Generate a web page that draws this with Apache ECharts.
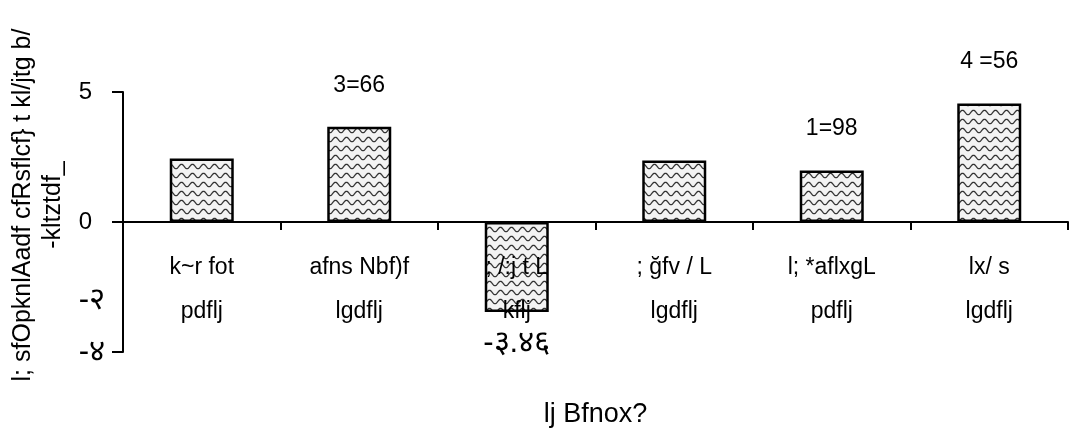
<!DOCTYPE html>
<html><head><meta charset="utf-8">
<script src="https://cdn.jsdelivr.net/npm/echarts@6/dist/echarts.min.js"></script>
<style>html,body{margin:0;padding:0;background:#fff}#c{width:1073px;height:439px}</style>
</head><body><div id="c"></div>
<script>
const categories = ['k~r fot\npdflj', 'afns Nbf)f\nlgdflj', '; /:j t L\nkflj', '; ğfv / L\nlgdflj', 'l; *aflxgL\npdflj', 'lx/ s\nlgdflj'];
const values = [2.44, 3.66, -3.46, 2.37, 1.98, 4.56];
const valueLabels = ['', '3=66', '-३.४६', '', '1=98', '4 =56'];
const yTickValues = [5, 0, -5];
const yLabelValues = [5, 0, -3, -5];
const yLabelTexts = ['5', '0', '-२', '-४'];
const xName = 'lj Bfnox?';
const yName = 'l; sfOpknlAadf cfRsflcf} t kl/jtg b/\n-kltztdf_';

const FONT = "'Liberation Sans', Arial, sans-serif";

function makePattern() {
  const c = document.createElement('canvas');
  c.width = 11; c.height = 9;
  const g = c.getContext('2d');
  g.fillStyle = '#f3f3f3'; g.fillRect(0, 0, 11, 9);
  g.strokeStyle = '#333'; g.lineWidth = 1.3;
  g.beginPath();
  for (let x = 0; x <= 11; x += 0.5) {
    const y = 4.5 + 2.2 * Math.cos(2 * Math.PI * x / 11);
    if (x === 0) g.moveTo(x, y); else g.lineTo(x, y);
  }
  g.stroke();
  return c;
}

const chart = echarts.init(document.getElementById('c'), null, {renderer: 'canvas'});
const pattern = {image: makePattern(), repeat: 'repeat'};

chart.setOption({
  animation: false,
  backgroundColor: '#fff',
  grid: {left: 123, right: 5, top: 92, bottom: 87, containLabel: false, outerBoundsMode: 'none'},
  xAxis: {
    type: 'category',
    data: categories,
    z: 5,
    offset: -130,
    name: xName,
    nameLocation: 'middle',
    nameGap: 179,
    nameTextStyle: {fontSize: 27, color: '#000', fontFamily: FONT},
    axisLine: {onZero: false, lineStyle: {color: '#000', width: 2}},
    axisTick: {show: true, length: 8, inside: false, lineStyle: {color: '#000', width: 2}},
    axisLabel: {color: '#000', fontSize: 23, lineHeight: 44, margin: 24, fontFamily: FONT, interval: 0},
    splitLine: {show: false}
  },
  yAxis: {
    type: 'value',
    min: -5, max: 5, interval: 5,
    name: yName,
    nameLocation: 'middle',
    nameGap: 52,
    nameTextStyle: {fontSize: 25, lineHeight: 30, color: '#000', fontFamily: FONT, padding: [0, 0, 0, 34]},
    axisLine: {show: true, lineStyle: {color: '#000', width: 2}},
    axisTick: {show: true, length: 11, customValues: yTickValues, lineStyle: {color: '#000', width: 2}},
    axisLabel: {
      customValues: yLabelValues,
      color: '#000', fontSize: 24, margin: 18, fontFamily: FONT,
      formatter: function (v) {
        const i = yLabelValues.indexOf(v);
        const t = i >= 0 ? yLabelTexts[i] : '';
        return v >= 0 ? '{p|' + t + '}' : '{n|' + t + '}';
      },
      rich: {
        p: {fontSize: 24, fontFamily: FONT, color: '#000', padding: [0, 13, 0, 0]},
        n: {fontSize: 31, fontFamily: FONT, color: '#000'}
      }
    },
    splitLine: {show: false}
  },
  series: [{
    type: 'bar',
    barWidth: 64,
    itemStyle: {color: pattern, borderColor: '#000', borderWidth: 2.5},
    label: {color: '#000', fontSize: 23, fontFamily: FONT},
    data: values.map((v, i) => ({
      value: v,
      label: {
        show: !!valueLabels[i],
        position: v < 0 ? 'bottom' : 'top',
        distance: v < 0 ? 16 : 30,
        fontSize: v < 0 ? 31 : 23,
        formatter: valueLabels[i]
      }
    }))
  }]
});
</script>
</body></html>
